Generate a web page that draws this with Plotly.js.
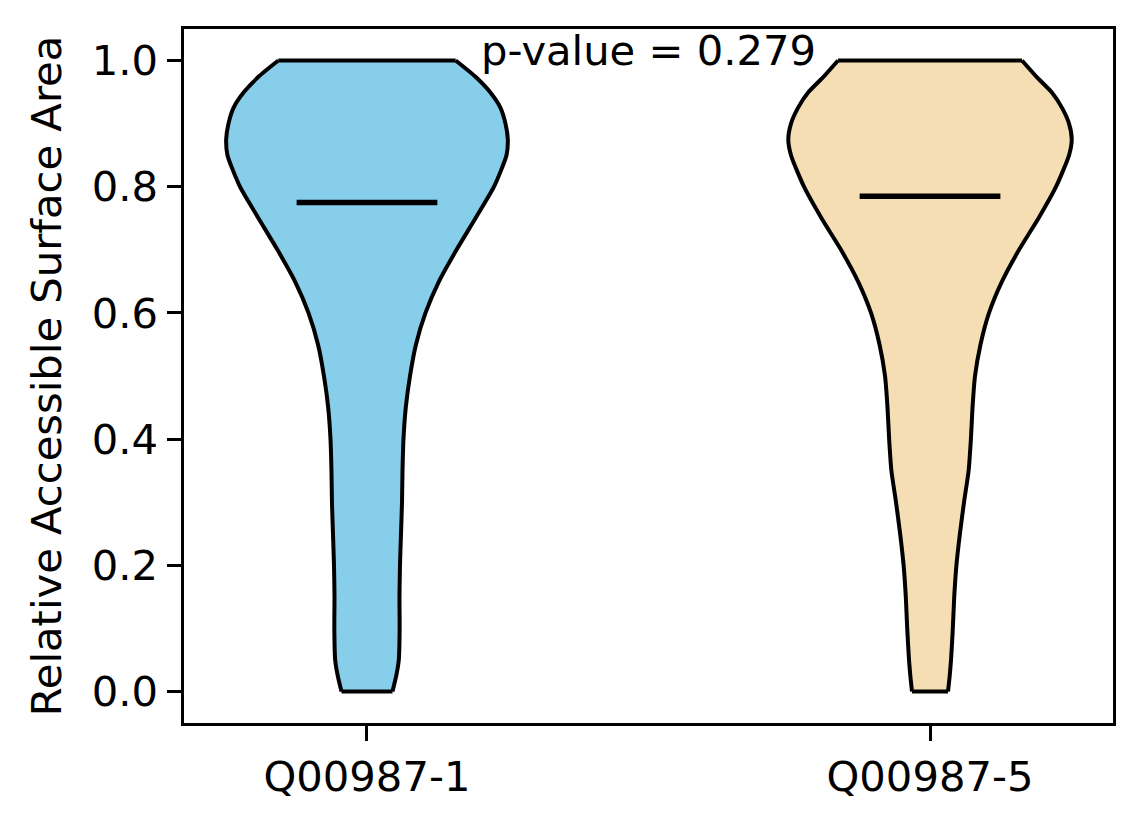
<!DOCTYPE html>
<html>
<head>
<meta charset="utf-8">
<script src="https://cdn.plot.ly/plotly-3.0.1.min.js"></script>
<style>
  html, body { margin: 0; padding: 0; background: #fff; }
  #chart { width: 1144px; height: 824px; }
</style>
</head>
<body>
<div id="chart"></div>
<script>
// ---- data ----
const categories = ["Q00987-1", "Q00987-5"];
const positions = [1, 2];
const medians = [0.775, 0.785];
const pValueText = "p-value = 0.279";
const yLabel = "Relative Accessible Surface Area";
const yTickVals = [0.0, 0.2, 0.4, 0.6, 0.8, 1.0];
const yTickText = ["0.0", "0.2", "0.4", "0.6", "0.8", "1.0"];

// y grid of the violin outlines (RSA values)
const yGrid = [0, 0.025, 0.05, 0.1, 0.15, 0.2, 0.25, 0.3, 0.35, 0.4, 0.45, 0.5,
               0.55, 0.6, 0.65, 0.7, 0.75, 0.8, 0.85, 0.875, 0.9, 0.925, 0.95, 0.975, 1.0];
// half widths (x-axis units) of each violin at the yGrid values
const halfWidth1 = [0.0453, 0.0520, 0.0565, 0.0580, 0.0577, 0.0586, 0.0604, 0.0622, 0.0631,
                    0.0648, 0.0689, 0.0764, 0.0870, 0.1039, 0.1279, 0.1590, 0.1927, 0.2256,
                    0.2478, 0.2501, 0.2460, 0.2371, 0.2185, 0.1918, 0.1575];
const halfWidth2 = [0.0320, 0.0350, 0.0373, 0.0405, 0.0430, 0.0469, 0.0531, 0.0604, 0.0686,
                    0.0726, 0.0755, 0.0799, 0.0897, 0.1048, 0.1279, 0.1581, 0.1927, 0.2238,
                    0.2469, 0.2517, 0.2469, 0.2345, 0.2158, 0.1883, 0.1634];
const fillColors = ["#87CEEB", "#F5DEB3"];
const medianHalf = 0.125;

// ---- build traces ----
const widths = [halfWidth1, halfWidth2];
const traces = [];
const edgeLine = { color: "#000", width: 4, shape: "spline", smoothing: 0.6 };
positions.forEach((p, i) => {
  const hw = widths[i];
  const n = yGrid.length;
  // body fill (closed outline, no stroke)
  const fx = [], fy = [];
  for (let k = 0; k < n; k++) { fx.push(p - hw[k]); fy.push(yGrid[k]); }
  for (let k = n - 1; k >= 0; k--) { fx.push(p + hw[k]); fy.push(yGrid[k]); }
  traces.push({
    type: "scatter", mode: "lines", x: fx, y: fy,
    fill: "toself", fillcolor: fillColors[i],
    line: { width: 0, color: fillColors[i] }, hoverinfo: "skip", showlegend: false
  });
  // smooth left and right edges
  traces.push({
    type: "scatter", mode: "lines",
    x: hw.map(w => p - w), y: yGrid.slice(),
    line: edgeLine, hoverinfo: "skip", showlegend: false
  });
  traces.push({
    type: "scatter", mode: "lines",
    x: hw.map(w => p + w), y: yGrid.slice(),
    line: edgeLine, hoverinfo: "skip", showlegend: false
  });
  // flat ends of the violin
  traces.push({
    type: "scatter", mode: "lines",
    x: [p - hw[0], p + hw[0], null, p - hw[n - 1], p + hw[n - 1]],
    y: [yGrid[0], yGrid[0], null, yGrid[n - 1], yGrid[n - 1]],
    line: { color: "#000", width: 4 }, hoverinfo: "skip", showlegend: false
  });
});
positions.forEach((p, i) => traces.push({
  type: "scatter", mode: "lines",
  x: [p - medianHalf, p + medianHalf], y: [medians[i], medians[i]],
  line: { color: "#000", width: 5.5 }, hoverinfo: "skip", showlegend: false
}));

const font = { family: "DejaVu Sans, sans-serif", size: 41.7, color: "#000" };

const layout = {
  width: 1144, height: 824,
  margin: { l: 183.5, r: 30.5, t: 29, b: 101, pad: 0 },
  paper_bgcolor: "#fff", plot_bgcolor: "#fff",
  font: font,
  showlegend: false,
  xaxis: {
    range: [0.675, 2.325],
    tickmode: "array", tickvals: positions, ticktext: categories,
    ticks: "outside", ticklen: 14.5, tickwidth: 3, tickcolor: "#000",
    showline: true, linecolor: "#000", linewidth: 3, mirror: true,
    showgrid: false, zeroline: false,
    tickfont: font
  },
  yaxis: {
    range: [-0.05, 1.05],
    tickmode: "array", tickvals: yTickVals, ticktext: yTickText,
    ticks: "outside", ticklen: 14.5, tickwidth: 3, tickcolor: "#000",
    showline: true, linecolor: "#000", linewidth: 3, mirror: true,
    showgrid: false, zeroline: false,
    tickfont: font,
    title: { text: yLabel, font: font, standoff: 18 }
  },
  annotations: [{
    x: 1.5, y: 0.991, xref: "x", yref: "y",
    text: pValueText, showarrow: false,
    xanchor: "center", yanchor: "bottom", yshift: -11,
    font: font
  }]
};

Plotly.newPlot("chart", traces, layout, { displayModeBar: false, staticPlot: true });
</script>
</body>
</html>
